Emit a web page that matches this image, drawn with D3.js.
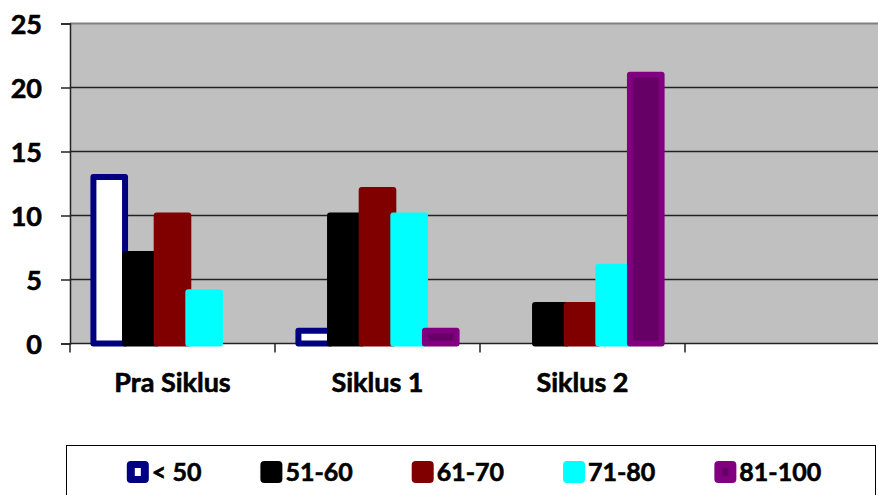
<!DOCTYPE html>
<html><head><meta charset="utf-8">
<script src="https://cdn.jsdelivr.net/npm/d3@7"></script>
<style>
html,body{margin:0;padding:0;background:#fff;}
svg{display:block;}
text{font-family:Lato,"Liberation Sans",Arial,sans-serif;font-weight:bold;fill:#000;stroke:#000;stroke-width:0.6px;}
</style></head>
<body>
<svg id="chart" width="878" height="495"></svg>
<script>
const categories = ["Pra Siklus", "Siklus 1", "Siklus 2", ""];
const seriesNames = ["< 50", "51-60", "61-70", "71-80", "81-100"];
const valsLt50 = [13, 1, 0, 0];
const vals5160 = [7, 10, 3, 0];
const vals6170 = [10, 12, 3, 0];
const vals7180 = [4, 10, 6, 0];
const vals81100 = [0, 1, 21, 0];
const yTicks = [0, 5, 10, 15, 20, 25];

const seriesValues = [valsLt50, vals5160, vals6170, vals7180, vals81100];
const fills = ["#ffffff", "#000000", "#800000", "#00ffff", "#660066"];
const strokes = ["#000080", "#000000", "#800000", "#00ffff", "#800080"];

const svg = d3.select("#chart");
const plotLeft = 70, plotTop = 23.5, plotBottom = 343.5;
const x0 = d3.scaleBand().domain(categories).range([plotLeft, plotLeft + 4 * 205]).padding(0);
const x1 = d3.scaleBand().domain(seriesNames).range([0, x0.bandwidth()]).paddingInner(0).paddingOuter(0.74);
const y = d3.scaleLinear().domain([0, 25]).range([plotBottom, plotTop]);

// plot background
svg.append("rect").attr("x", plotLeft).attr("y", plotTop).attr("width", 878 - plotLeft).attr("height", plotBottom - plotTop).attr("fill", "#c0c0c0");

// gridlines
svg.append("g").selectAll("line").data(yTicks.filter(t => t > 0 && t < 25)).join("line")
  .attr("x1", plotLeft).attr("x2", 878).attr("y1", d => y(d)).attr("y2", d => y(d))
  .attr("stroke", "#222").attr("stroke-width", 1.5);
svg.append("line").attr("x1", plotLeft).attr("x2", 878).attr("y1", y(25)).attr("y2", y(25))
  .attr("stroke", "#808080").attr("stroke-width", 2);

// y axis
const yAxis = d3.axisLeft(y).tickValues(yTicks).tickSize(9).tickPadding(19);
const gy = svg.append("g").attr("transform", `translate(${plotLeft},0)`).call(yAxis);
gy.select(".domain").attr("stroke", "#222").attr("stroke-width", 1.5);
gy.selectAll(".tick line").attr("stroke", "#222").attr("stroke-width", 1.5);
gy.selectAll(".tick text").style("font-size", "27px").attr("dy", "0.36em")
  .style("font-family", "Lato, 'Liberation Sans', Arial, sans-serif").style("font-weight", "bold")
  .style("stroke", "#000").style("stroke-width", "0.6px");

// x axis line and ticks
svg.append("line").attr("x1", plotLeft).attr("x2", 878).attr("y1", plotBottom).attr("y2", plotBottom)
  .attr("stroke", "#222").attr("stroke-width", 1.5);
svg.append("g").selectAll("line").data(categories).join("line")
  .attr("x1", d => x0(d)).attr("x2", d => x0(d)).attr("y1", plotBottom).attr("y2", plotBottom + 9)
  .attr("stroke", "#222").attr("stroke-width", 1.5);
svg.append("g").selectAll("text").data(categories).join("text")
  .attr("x", d => x0(d) + x0.bandwidth() / 2).attr("y", 392)
  .attr("text-anchor", "middle").style("font-size", "27px").text(d => d);

// bars
const barData = [];
seriesNames.forEach((s, si) => {
  categories.forEach((c, ci) => {
    const v = seriesValues[si][ci];
    if (v > 0) barData.push({ s, si, c, v });
  });
});
svg.append("g").selectAll("rect").data(barData).join("rect")
  .attr("x", d => x0(d.c) + x1(d.s))
  .attr("y", d => y(d.v))
  .attr("width", x1.bandwidth())
  .attr("height", d => y(0) - y(d.v))
  .attr("fill", d => fills[d.si])
  .attr("stroke", d => strokes[d.si])
  .attr("stroke-width", 6)
  .attr("stroke-linejoin", "round");

// legend
svg.append("rect").attr("x", 66.5).attr("y", 445.5).attr("width", 809).attr("height", 60)
  .attr("fill", "#fff").attr("stroke", "#000").attr("stroke-width", 1);
const lg = svg.append("g");
const items = lg.selectAll("g").data(seriesNames).join("g");
items.append("rect").attr("x", 2).attr("y", 463).attr("width", 18).attr("height", 18)
  .attr("rx", 2).attr("fill", (d, i) => strokes[i])
  .attr("stroke", (d, i) => strokes[i]).attr("stroke-width", 4).attr("stroke-linejoin", "round");
items.filter((d, i) => i === 0 || i === 4).append("rect")
  .attr("x", 8).attr("y", 468).attr("width", 6).attr("height", 8)
  .attr("fill", d => d === "< 50" ? "#ffffff" : "#660066");
items.append("text").attr("x", 25).attr("y", 481).style("font-size", "25px").text(d => d);
const widths = [];
items.each(function () {
  const t = d3.select(this).select("text").node().getComputedTextLength();
  widths.push(25 + t);
});
const gapL = 59;
const total = d3.sum(widths) + gapL * (widths.length - 1);
let start = 474 - total / 2;
items.attr("transform", (d, i) => {
  const tx = start;
  start += widths[i] + gapL;
  return `translate(${tx},0)`;
});
</script>
</body></html>
